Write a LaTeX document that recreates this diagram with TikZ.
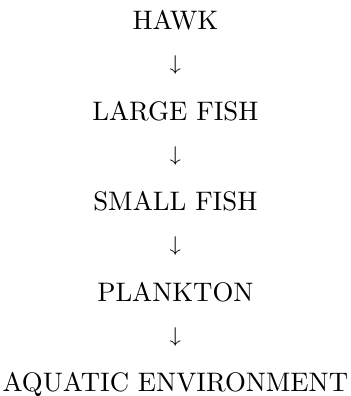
\documentclass[tikz,border=0pt]{standalone}
\usepackage{fontspec}
\usepackage{tikz}

\tikzset{chainlink/.style={anchor=base, inner sep=0pt},
  chainarrow/.style={anchor=center, inner sep=0pt, font=\fontsize{8}{8}\selectfont}}

\begin{document}
\begin{tikzpicture}[x=1pt,y=1pt]
        % food chain, top predator down to environment
        \useasboundingbox (-65.5,11.2) rectangle (65.5,-136.7);
        \node[chainlink] (hawk) at (0,0) {HAWK};
        \node[chainarrow] (arr1) at (0,-13.1) {↓};
        \node[chainlink] (large) at (0,-33.8) {LARGE FISH};
        \node[chainarrow] (arr2) at (0,-46.9) {↓};
        \node[chainlink] (small) at (0,-67.6) {SMALL FISH};
        \node[chainarrow] (arr3) at (0,-80.7) {↓};
        \node[chainlink] (plankton) at (0,-101.4) {PLANKTON};
        \node[chainarrow] (arr4) at (0,-114.5) {↓};
        \node[chainlink] (aquatic) at (0,-135.2) {AQUATIC ENVIRONMENT};
    \end{tikzpicture}
\end{document}
